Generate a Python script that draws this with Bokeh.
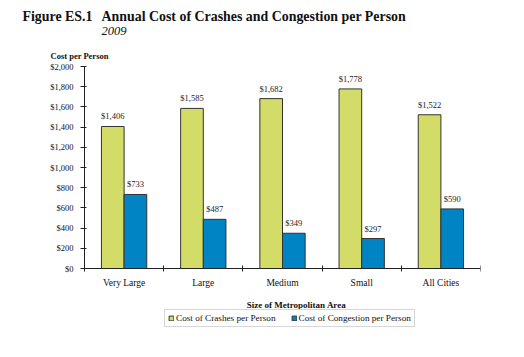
from bokeh.plotting import figure
from bokeh.models import (FixedTicker, NumeralTickFormatter, Legend, LegendItem,
                          ColumnDataSource, Label)
from bokeh.embed import file_html
from bokeh.resources import INLINE
from bokeh.core.properties import value

categories = ["Very Large", "Large", "Medium", "Small", "All Cities"]
crashes = [1406, 1585, 1682, 1778, 1522]
congestion = [733, 487, 349, 297, 590]
y_ticks = [0, 200, 400, 600, 800, 1000, 1200, 1400, 1600, 1800, 2000]

SERIF = "Liberation Serif"
YELLOW = "#d4dc68"
BLUE = "#0084c4"

W, H = 508, 341
X0, FW = 84, 396   # canvas px of the y axis, width of the category area
MR = W - X0 - FW
YTOP = 66          # canvas px of $2,000
Y0 = 268           # canvas px of $0
B = 338            # frame bottom (canvas px); frame spans from canvas top-left to (X0+FW, B)
MB = H - B
XMAX, YMAX = len(categories), 2000
SX = FW / XMAX
S = (Y0 - YTOP) / YMAX
XMIN = -X0 / SX
YMIN = -(B - Y0) / S
YEND = Y0 / S

def dx(px):
    return (px - X0) / SX

def dy(py):
    return (Y0 - py) / S

p = figure(width=W, height=H, x_range=(XMIN, XMAX), y_range=(YMIN, YEND),
           output_backend="svg", toolbar_location=None, title=None,
           min_border_left=0, min_border_right=MR, min_border_top=0, min_border_bottom=MB)
p.outline_line_color = None
p.xgrid.visible = False
p.ygrid.visible = False
p.background_fill_color = "white"
p.border_fill_color = "white"

off = 0.143
bw = 0.286
cx = [i + 0.5 for i in range(len(categories))]
src1 = ColumnDataSource(dict(x=[c - off for c in cx], top=crashes,
                             lab=[f"${v:,}" for v in crashes]))
src2 = ColumnDataSource(dict(x=[c + off for c in cx], top=congestion,
                             lab=[f"${v:,}" for v in congestion]))
r1 = p.vbar(x="x", top="top", bottom=0, width=bw, source=src1, fill_color=YELLOW,
            line_color="#333333", line_width=1)
r2 = p.vbar(x="x", top="top", bottom=0, width=bw, source=src2, fill_color=BLUE,
            line_color="#333333", line_width=1)
for s in (src1, src2):
    p.text(x="x", y="top", text="lab", source=s, text_align="center",
           text_baseline="bottom", y_offset=-5, text_font=value(SERIF),
           text_font_size="8.5px", text_color="#222222")

# x axis pinned at $0
xa = p.xaxis[0]
xa.fixed_location = 0
xa.bounds = (0, XMAX)
xa.ticker = FixedTicker(ticks=cx, minor_ticks=list(range(len(categories) + 1)))
xa.major_label_overrides = {c: n for c, n in zip(cx, categories)}
xa.major_tick_line_color = None
xa.minor_tick_in = 3
xa.minor_tick_out = 3
xa.minor_tick_line_color = "#222222"
xa.axis_line_color = "#222222"
xa.major_label_text_font = SERIF
xa.major_label_text_font_size = "9.5px"
xa.major_label_text_color = "#111111"
xa.major_label_standoff = 3

# y axis pinned at the left edge of the categories
ya = p.yaxis[0]
ya.fixed_location = 0
ya.bounds = (0, YMAX)
ya.ticker = FixedTicker(ticks=y_ticks, minor_ticks=[])
ya.formatter = NumeralTickFormatter(format="$0,0")
ya.major_tick_in = 2
ya.major_tick_out = 4
ya.major_tick_line_color = "#222222"
ya.axis_line_color = "#222222"
ya.major_label_text_font = SERIF
ya.major_label_text_font_size = "8.5px"
ya.major_label_text_color = "#111111"
ya.major_label_standoff = 7

def lab(text, px, py, size, style="normal", align="left"):
    p.add_layout(Label(x=dx(px), y=dy(py), text=text, text_font=SERIF,
                       text_font_size=size, text_font_style=style,
                       text_align=align, text_baseline="alphabetic",
                       text_color="#111111"))

lab("Figure ES.1", 22, 16, "13.9px", "bold")
lab("Annual Cost of Crashes and Congestion per Person", 101, 16, "13.9px", "bold")
lab("2009", 101, 30.7, "12.5px", "italic")
lab("Cost per Person", 50, 55.5, "8.5px", "bold")
lab("Size of Metropolitan Area", 296, 304, "9px", "bold", "center")

legend = Legend(items=[LegendItem(label="Cost of Crashes per Person", renderers=[r1]),
                       LegendItem(label="Cost of Congestion per Person", renderers=[r2])],
                orientation="horizontal", location=(164, B - 327),
                label_text_font=SERIF, label_text_font_size="9.2px",
                label_text_color="#111111",
                glyph_width=6, glyph_height=6, label_height=8, label_standoff=2,
                spacing=15, padding=3, margin=0,
                border_line_color="#b0b0b0", border_line_width=1,
                background_fill_color="white", background_fill_alpha=1)
p.add_layout(legend, "center")

open("out.html", "w").write(file_html(p, INLINE))
